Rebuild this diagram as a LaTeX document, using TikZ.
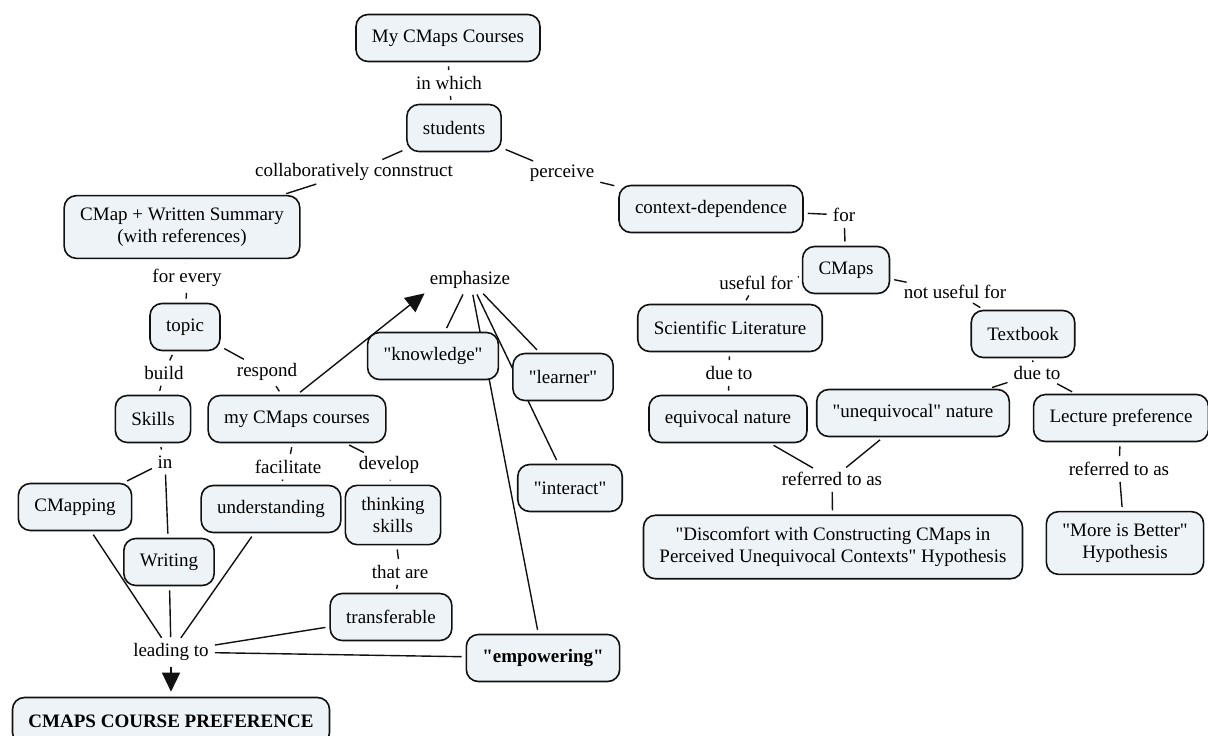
\documentclass[tikz,border=0pt]{standalone}
\usepackage{fontspec}
\setmainfont{Liberation Serif}[Ligatures=TeXOff]
\usepackage{tikz}
\usetikzlibrary{
arrows.meta,
positioning
}
\definecolor{CMFill}{HTML}{EEF3F7}
\definecolor{CMInk}{HTML}{111111}
\pgfdeclarelayer{background}
\pgfsetlayers{background,main}
\tikzset{
cmconcept/.style={draw=CMInk, fill=CMFill, line width=1.6pt, rounded corners=12pt, align=center,
  minimum height=47pt, inner xsep=16pt, inner ysep=12pt, font=\fontsize{19}{22}\selectfont},
cmbold/.style={cmconcept, font=\fontsize{19}{22}\selectfont\bfseries},
cmlink/.style={inner sep=2pt, align=center, font=\fontsize{19}{22}\selectfont},
cmline/.style={draw=CMInk, line width=1.4pt, shorten <=4pt, shorten >=4pt},
cmarrow/.style={cmline, -{Triangle[length=19pt,width=18pt]}}
}

\begin{document}
\begin{tikzpicture}[x=1pt, y=-1pt]
\useasboundingbox (0,0) rectangle (1208,736);

\node[cmconcept] (courses) at (448,38) {My CMaps Courses};
\node[cmlink] (inwhich) at (449,83) {in which};
\node[cmconcept] (students) at (454,128) {students};
\node[cmlink] (collab) at (354,172) {collaboratively connstruct};
\node[cmlink] (perceive) at (562,173) {perceive};
\node[cmconcept] (cmapws) at (182,227) {CMap + Written Summary\\(with references)};
\node[cmconcept] (ctxdep) at (711,209) {context-dependence};
\node[cmlink] (forlink) at (844,215) {for};
\node[cmconcept] (cmaps) at (846,270) {CMaps};
\node[cmlink] (useful) at (756,283) {useful for};
\node[cmlink] (notuseful) at (955,292) {not useful for};
\node[cmconcept] (scilit) at (730,328) {Scientific Literature};
\node[cmconcept] (textbook) at (1023,334) {Textbook};
\node[cmlink] (dueleft) at (729,373) {due to};
\node[cmlink] (dueright) at (1037,373) {due to};
\node[cmconcept] (equiv) at (728,419) {equivocal nature};
\node[cmconcept] (unequiv) at (913,413) {"unequivocal" nature};
\node[cmconcept] (lecture) at (1121,418) {Lecture preference};
\node[cmlink] (refmid) at (832,479) {referred to as};
\node[cmlink] (refright) at (1119,469) {referred to as};
\node[cmconcept] (discomfort) at (833,547) {"Discomfort with Constructing CMaps in\\Perceived Unequivocal Contexts" Hypothesis};
\node[cmconcept] (morebetter) at (1125,543) {"More is Better"\\Hypothesis};

\node[cmlink] (forevery) at (187,278) {for every};
\node[cmconcept] (topic) at (185,327) {topic};
\node[cmlink] (emph) at (470,280) {emphasize};
\node[cmlink] (build) at (164,373) {build};
\node[cmlink] (respond) at (267,372) {respond};
\node[cmconcept] (skills) at (153,419) {Skills};
\node[cmconcept] (mycourses) at (297,419) {my CMaps courses};
\node[cmconcept] (knowledge) at (433,356) {"knowledge"};
\node[cmconcept] (learner) at (563,377) {"learner"};
\node[cmconcept] (interact) at (570,488) {"interact"};
\node[cmlink] (inlink) at (165,462) {in};
\node[cmlink] (facilitate) at (288,467) {facilitate};
\node[cmlink] (develop) at (389,465) {develop};
\node[cmconcept] (cmapping) at (75,507) {CMapping};
\node[cmconcept] (understanding) at (271,509) {understanding};
\node[cmconcept] (thinking) at (393,515) {thinking\\skills};
\node[cmconcept] (writing) at (169,562) {Writing};
\node[cmlink] (thatare) at (400,572) {that are};
\node[cmconcept] (transfer) at (391,617) {transferable};
\node[cmlink] (leadto) at (171,652) {leading to};
\node[cmbold] (empower) at (543,658) {"empowering"};
\node[cmbold, minimum width=314pt] (cpref) at (171,721) {CMAPS COURSE PREFERENCE};

\begin{pgfonlayer}{background}
\draw[cmline] (courses) -- (inwhich);
\draw[cmline] (inwhich) -- (students);
\draw[cmline] (students) -- (collab);
\draw[cmline] (collab) -- (cmapws);
\draw[cmline] (students) -- (perceive);
\draw[cmline] (perceive) -- (ctxdep);
\draw[cmline] (ctxdep) -- (forlink);
\draw[cmline] (forlink) -- (cmaps);
\draw[cmline] (cmaps) -- (useful);
\draw[cmline] (useful) -- (scilit);
\draw[cmline] (cmaps) -- (notuseful);
\draw[cmline] (notuseful) -- (textbook);
\draw[cmline] (scilit) -- (dueleft);
\draw[cmline] (dueleft) -- (equiv);
\draw[cmline] (textbook) -- (dueright);
\draw[cmline] (dueright) -- (unequiv);
\draw[cmline] (dueright) -- (lecture);
\draw[cmline] (equiv) -- (refmid);
\draw[cmline] (unequiv) -- (refmid);
\draw[cmline] (refmid) -- (discomfort);
\draw[cmline] (lecture) -- (refright);
\draw[cmline] (refright) -- (morebetter);

\draw[cmline] (cmapws) -- (forevery);
\draw[cmline] (forevery) -- (topic);
\draw[cmline] (topic) -- (build);
\draw[cmline] (build) -- (skills);
\draw[cmline] (topic) -- (respond);
\draw[cmline] (respond) -- (mycourses);
\draw[cmarrow] (mycourses.north) -- (emph.south west);
\draw[cmline] (emph) -- (knowledge);
\draw[cmline] (emph) -- (learner);
\draw[cmline] (emph) -- (interact);
\draw[cmline] (emph) -- (empower);
\draw[cmline] (skills) -- (inlink);
\draw[cmline] (inlink) -- (cmapping);
\draw[cmline] (inlink) -- (writing);
\draw[cmline] (mycourses) -- (facilitate);
\draw[cmline] (facilitate) -- (understanding);
\draw[cmline] (mycourses) -- (develop);
\draw[cmline] (develop) -- (thinking);
\draw[cmline] (thinking) -- (thatare);
\draw[cmline] (thatare) -- (transfer);
\draw[cmline] (cmapping) -- (leadto);
\draw[cmline] (writing) -- (leadto);
\draw[cmline] (understanding) -- (leadto);
\draw[cmline] (transfer) -- (leadto);
\draw[cmline] (empower) -- (leadto);
\draw[cmarrow, shorten >=5pt] (leadto) -- (cpref);
\end{pgfonlayer}
\end{tikzpicture}
\end{document}
